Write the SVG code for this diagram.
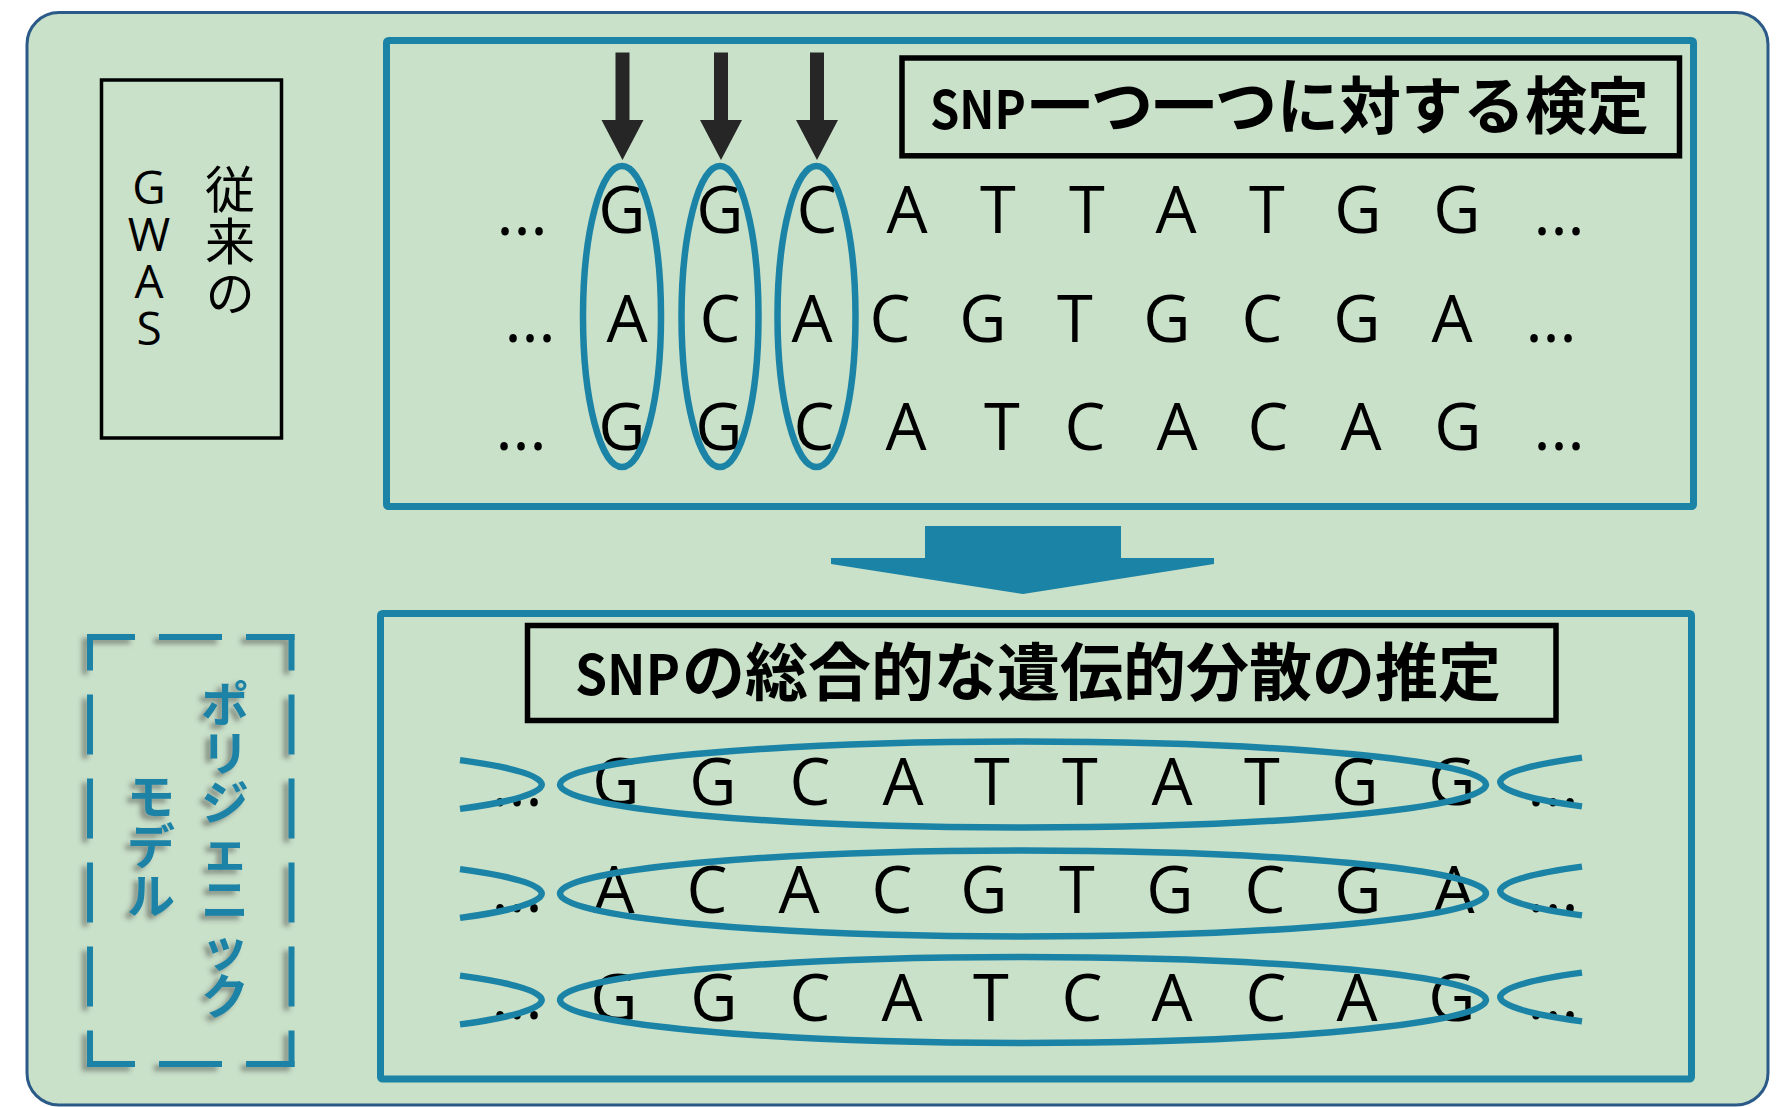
<svg xmlns="http://www.w3.org/2000/svg" width="1790" height="1107" viewBox="0 0 1790 1107">
<defs>
<style>
.seq{font-family:"Open Sans","Noto Sans",sans-serif;font-size:65px;fill:#000;text-anchor:middle}
.dots{font-family:"Open Sans","Noto Sans",sans-serif;font-size:65px;fill:#000;text-anchor:middle}
.vjp{font-family:"Noto Sans CJK JP",sans-serif;writing-mode:vertical-rl}
.vlat{font-family:"Open Sans","Noto Sans",sans-serif;writing-mode:vertical-rl;text-orientation:upright}
.nov{font-feature-settings:"vert" 0,"vrt2" 0}
.title{font-family:"Noto Sans CJK JP",sans-serif;font-weight:bold;fill:#000}
.panel{fill:none;stroke:#1a83a6;stroke-width:7}
.ring{fill:none;stroke:#1a83a6;stroke-width:6.5}
.box{fill:none;stroke:#000;stroke-width:5.5}
.darr{fill:#262626}
.dh{fill:none;stroke:#1a83a6;stroke-width:6;stroke-dasharray:63 24;stroke-dashoffset:15}
.dv{fill:none;stroke:#1a83a6;stroke-width:6;stroke-dasharray:60 24;stroke-dashoffset:23.5}
</style>
<filter id="sh" x="-20%" y="-10%" width="140%" height="120%">
<feDropShadow dx="-5" dy="4" stdDeviation="2.5" flood-color="#404040" flood-opacity="0.5"/>
</filter>
</defs>
<rect width="1790" height="1107" fill="#ffffff"/>
<rect id="outer" x="27" y="12.5" width="1741" height="1092.5" rx="32" fill="#c9e0c9" stroke="#2c5a88" stroke-width="3"/>

<g id="gwas-label">
<rect x="101.5" y="80" width="180" height="358" fill="none" stroke="#000" stroke-width="3.5"/>
<text class="vjp" x="230" y="164" font-size="50" letter-spacing="2" fill="#000">従来の</text>
<text class="vlat" x="149" y="155" font-size="46" letter-spacing="-15" fill="#000">GWAS</text>
</g>

<g id="top-panel">
<rect class="panel" x="386.5" y="40.5" width="1307" height="466" rx="2"/>
<g id="title1">
<rect class="box" x="902" y="58" width="777.5" height="97.8"/>
<text class="title" x="930" y="129"><tspan font-size="53" textLength="96" lengthAdjust="spacingAndGlyphs">SNP</tspan><tspan x="1029" font-size="62">一つ一つに対する検定</tspan></text>
</g>
<text class="dots" x="522" y="235">...</text>
<text class="dots" x="530" y="342">...</text>
<text class="dots" x="521" y="450">...</text>
<text class="dots" x="1559" y="235">...</text>
<text class="dots" x="1551" y="342">...</text>
<text class="dots" x="1559" y="450">...</text>
<text class="seq" y="233"><tspan x="622">G</tspan><tspan x="720">G</tspan><tspan x="817">C</tspan><tspan x="907">A</tspan><tspan x="998">T</tspan><tspan x="1087">T</tspan><tspan x="1176">A</tspan><tspan x="1267">T</tspan><tspan x="1358">G</tspan><tspan x="1457">G</tspan></text>
<text class="seq" y="342"><tspan x="627">A</tspan><tspan x="720">C</tspan><tspan x="812">A</tspan><tspan x="890">C</tspan><tspan x="983">G</tspan><tspan x="1075">T</tspan><tspan x="1167">G</tspan><tspan x="1262">C</tspan><tspan x="1357">G</tspan><tspan x="1452">A</tspan></text>
<text class="seq" y="450"><tspan x="622">G</tspan><tspan x="719">G</tspan><tspan x="814">C</tspan><tspan x="906">A</tspan><tspan x="1002">T</tspan><tspan x="1085">C</tspan><tspan x="1177">A</tspan><tspan x="1268">C</tspan><tspan x="1361">A</tspan><tspan x="1458">G</tspan></text>
<ellipse class="ring" cx="622" cy="316.5" rx="39" ry="150.5"/>
<ellipse class="ring" cx="720" cy="316.5" rx="38.5" ry="150.5"/>
<ellipse class="ring" cx="816.5" cy="316.5" rx="39" ry="150.5"/>
</g>

<g id="polygenic-label">
<g filter="url(#sh)">
<path class="dh" d="M87,637 H294.5"/>
<path class="dh" d="M87,1064 H294.5"/>
<path class="dv" d="M90,634 V1067"/>
<path class="dv" d="M291.5,634 V1067"/>
</g>
<g filter="url(#sh)" fill="#1a83a6" font-weight="bold">
<text class="vjp nov" x="225" y="680" font-size="48" letter-spacing="0.7">ポリジェニック</text>
<text class="vjp nov" x="151" y="772" font-size="48" letter-spacing="1.5">モデル</text>
</g>
</g>

<g id="bottom-panel">
<rect class="panel" x="380.5" y="613.5" width="1311" height="465.5" rx="2"/>
<g id="title2">
<rect class="box" x="527.5" y="625.5" width="1028.5" height="95"/>
<text class="title" x="575" y="695"><tspan font-size="55" textLength="105" lengthAdjust="spacingAndGlyphs">SNP</tspan><tspan x="682" font-size="63">の総合的な遺伝的分散の推定</tspan></text>
</g>
<text class="dots" x="517" y="806">...</text>
<text class="dots" x="517" y="912">...</text>
<text class="dots" x="517" y="1019">...</text>
<text class="dots" x="1553" y="806">...</text>
<text class="dots" x="1553" y="912">...</text>
<text class="dots" x="1553" y="1019">...</text>
<text class="seq" y="805"><tspan x="616">G</tspan><tspan x="713">G</tspan><tspan x="810">C</tspan><tspan x="903">A</tspan><tspan x="992">T</tspan><tspan x="1080">T</tspan><tspan x="1172">A</tspan><tspan x="1262">T</tspan><tspan x="1355">G</tspan><tspan x="1452">G</tspan></text>
<text class="seq" y="913"><tspan x="614">A</tspan><tspan x="707">C</tspan><tspan x="799">A</tspan><tspan x="892">C</tspan><tspan x="984">G</tspan><tspan x="1077">T</tspan><tspan x="1170">G</tspan><tspan x="1265">C</tspan><tspan x="1358">G</tspan><tspan x="1454">A</tspan></text>
<text class="seq" y="1021"><tspan x="614">G</tspan><tspan x="714">G</tspan><tspan x="810">C</tspan><tspan x="902">A</tspan><tspan x="991">T</tspan><tspan x="1082">C</tspan><tspan x="1172">A</tspan><tspan x="1266">C</tspan><tspan x="1357">A</tspan><tspan x="1452">G</tspan></text>
<ellipse class="ring" cx="1023" cy="784.5" rx="463" ry="43"/>
<ellipse class="ring" cx="1023" cy="893.5" rx="463" ry="43"/>
<ellipse class="ring" cx="1023" cy="1000" rx="463" ry="43"/>
<path class="ring" d="M460,760.1 A463,43 0 0 1 460,808.9 M460,869.1 A463,43 0 0 1 460,917.9 M460,975.6 A463,43 0 0 1 460,1024.4"/>
<path class="ring" d="M1582,757.6 A463,43 0 0 0 1582,806.4 M1582,866.6 A463,43 0 0 0 1582,915.4 M1582,972.6 A463,43 0 0 0 1582,1021.4"/>
</g>

<g id="connectors">
<polygon class="darr" points="615.5,52.5 629.5,52.5 629.5,120 643.5,120 622.5,160 601.5,120 615.5,120"/>
<polygon class="darr" points="714,52.5 728,52.5 728,120 742,120 721,160 700,120 714,120"/>
<polygon class="darr" points="810,52.5 824,52.5 824,120 838,120 817,160 796,120 810,120"/>
<polygon fill="#1a83a6" points="925,526 1121,526 1121,558 1214,558 1214,564 1023,594 831,564 831,558 925,558"/>
</g>
</svg>
